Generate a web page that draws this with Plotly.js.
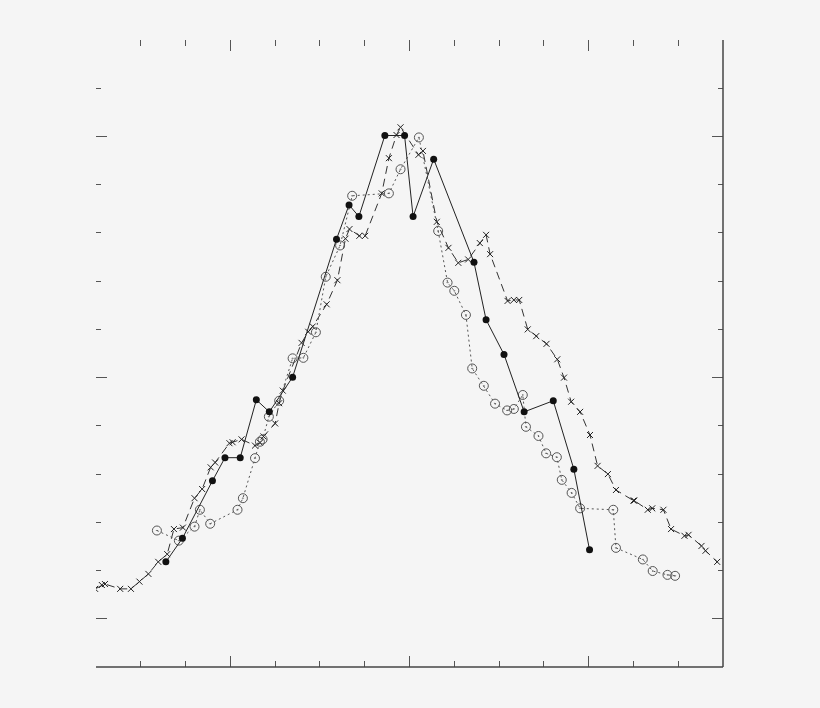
<!DOCTYPE html>
<html>
<head>
<meta charset="utf-8">
<script src="https://cdn.plot.ly/plotly-3.0.1.min.js"></script>
<style>
  html, body { margin: 0; padding: 0; background: #f5f5f5; }
  #chart { width: 820px; height: 708px; }
</style>
</head>
<body>
<div id="chart"></div>
<script>
// series 1: solid line, filled dots
const solidX = [1.56, 1.93, 2.60, 2.88, 3.22, 3.58, 3.87, 4.39, 5.37, 5.65, 5.87, 6.45, 6.89,
  7.08, 7.54, 8.44, 8.71, 9.11, 9.56, 10.21, 10.67, 11.02];
const solidY = [2.18, 2.67, 3.86, 4.34, 4.34, 5.54, 5.29, 6.01, 8.87, 9.58, 9.34, 11.02, 11.02,
  9.34, 10.53, 8.39, 7.20, 6.48, 5.29, 5.52, 4.10, 2.43];

// series 2: dashed line, x markers
const dashX = [-0.02, 0.13, 0.20, 0.54, 0.78, 0.97, 1.17, 1.39, 1.59, 1.74, 1.94, 2.20, 2.37,
  2.56, 2.66, 2.98, 3.05, 3.25, 3.55, 3.66, 3.74, 4.00, 4.09, 4.17, 4.59, 4.74, 4.84, 5.15,
  5.39, 5.57, 5.66, 5.88, 6.01, 6.38, 6.54, 6.71, 6.80, 7.20, 7.30, 7.61, 7.87, 8.09, 8.31,
  8.57, 8.71, 8.80, 9.19, 9.33, 9.45, 9.64, 9.83, 10.06, 10.30, 10.45, 10.61, 10.81, 11.03,
  11.20, 11.43, 11.61, 12.00, 12.02, 12.32, 12.42, 12.67, 12.84, 13.14, 13.23, 13.52, 13.61,
  13.87];
const dashY = [1.62, 1.70, 1.72, 1.62, 1.62, 1.77, 1.93, 2.18, 2.34, 2.86, 2.89, 3.50, 3.69,
  4.14, 4.24, 4.64, 4.66, 4.72, 4.59, 4.65, 4.78, 5.05, 5.47, 5.73, 6.72, 6.95, 7.06, 7.52,
  8.02, 8.88, 9.08, 8.94, 8.94, 9.82, 10.55, 11.03, 11.19, 10.62, 10.70, 9.23, 8.69, 8.38,
  8.45, 8.79, 8.96, 8.56, 7.59, 7.61, 7.61, 7.00, 6.86, 6.70, 6.38, 6.00, 5.50, 5.29, 4.81,
  4.17, 4.00, 3.67, 3.45, 3.45, 3.26, 3.29, 3.26, 2.86, 2.72, 2.74, 2.51, 2.41, 2.18];

// series 3: dotted line, dotted circles
const dotX = [1.36, 1.85, 2.20, 2.32, 2.55, 3.16, 3.28, 3.55, 3.66, 3.72, 3.86, 4.09, 4.39,
  4.63, 4.91, 5.13, 5.45, 5.72, 6.54, 6.80, 7.21, 7.64, 7.85, 8.00, 8.26, 8.40, 8.66, 8.91,
  9.18, 9.33, 9.53, 9.60, 9.88, 10.05, 10.29, 10.40, 10.62, 10.81, 11.55, 11.61, 12.21, 12.43,
  12.76, 12.93];
const dotY = [2.83, 2.62, 2.91, 3.26, 2.97, 3.26, 3.50, 4.33, 4.67, 4.72, 5.19, 5.52, 6.40,
  6.41, 6.94, 8.09, 8.74, 9.77, 9.82, 10.32, 10.98, 9.04, 7.97, 7.80, 7.30, 6.19, 5.83, 5.46,
  5.32, 5.35, 5.64, 4.98, 4.79, 4.43, 4.35, 3.88, 3.61, 3.29, 3.26, 2.47, 2.23, 1.99, 1.91,
  1.89];

const traces = [
  {
    x: dashX, y: dashY, mode: 'lines+markers', type: 'scatter',
    line: {color: '#333333', width: 1, dash: '8px,5px'},
    marker: {symbol: 'x-thin-open', size: 6, color: '#222222', line: {width: 1, color: '#222222'}}
  },
  {
    x: dotX, y: dotY, mode: 'lines+markers', type: 'scatter',
    line: {color: '#555555', width: 1, dash: '2px,3px'},
    marker: {symbol: 'circle-open-dot', size: 9, color: '#555555', line: {width: 1, color: '#555555'}}
  },
  {
    x: solidX, y: solidY, mode: 'lines+markers', type: 'scatter',
    line: {color: '#222222', width: 1},
    marker: {symbol: 'circle', size: 7, color: '#111111'}
  }
];

const tickColor = '#555555';

const layout = {
  width: 820, height: 708,
  paper_bgcolor: '#f5f5f5', plot_bgcolor: '#f5f5f5',
  margin: {l: 96, r: 97, t: 40, b: 41},
  showlegend: false,
  xaxis: {
    range: [0, 14], showgrid: false, zeroline: false, showline: false,
    showticklabels: false, ticks: 'inside', ticklen: 11, tickwidth: 1, tickcolor: tickColor,
    tick0: 3, dtick: 4, mirror: 'ticks',
    minor: {ticks: 'inside', ticklen: 6, tickwidth: 1, tickcolor: tickColor, tick0: 0, dtick: 1, showgrid: false}
  },
  yaxis: {
    range: [0, 13], showgrid: false, zeroline: false, showline: false,
    showticklabels: false, ticks: 'inside', ticklen: 11, tickwidth: 1, tickcolor: tickColor,
    tick0: 1, dtick: 5, mirror: 'ticks',
    minor: {ticks: 'inside', ticklen: 5, tickwidth: 1, tickcolor: tickColor, tick0: 0, dtick: 1, showgrid: false}
  },
  shapes: [
    {type: 'line', xref: 'paper', yref: 'paper', x0: 0, x1: 1, y0: 0, y1: 0,
      line: {color: '#444444', width: 1.5}},
    {type: 'line', xref: 'paper', yref: 'paper', x0: 1, x1: 1, y0: 0, y1: 1,
      line: {color: '#444444', width: 1.5}}
  ]
};

Plotly.newPlot('chart', traces, layout, {displayModeBar: false, staticPlot: true});
</script>
</body>
</html>
